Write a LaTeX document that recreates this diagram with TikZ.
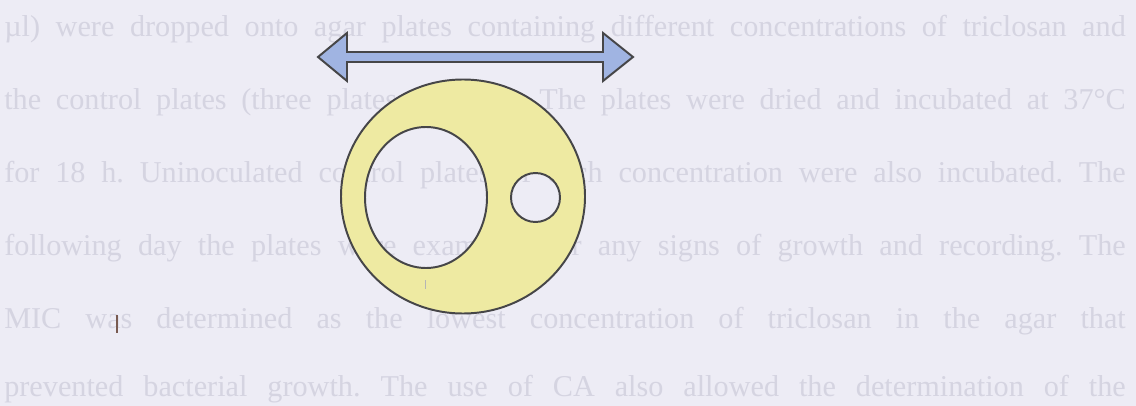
\documentclass[tikz,border=0pt]{standalone}
\usepackage{fontspec}
\setmainfont{Liberation Serif}
\usepackage{xcolor}
\usepackage{tikz}
\usetikzlibrary{calc}
\definecolor{pgPaper} {RGB}{237,236,245}
\definecolor{pgGhost} {RGB}{213,212,225}
\definecolor{pgBlue}  {RGB}{160,180,226}
\definecolor{pgYellow}{RGB}{238,234,162}
\definecolor{pgInk}   {RGB}{ 70, 70, 72}
\definecolor{pgSpeck} {RGB}{120, 90, 80}

\begin{document}
\frenchspacing
\begin{tikzpicture}[
  x=0.025cm,y=-0.025cm,
  ghost/.style={anchor=base west,inner sep=0pt,text=pgGhost,
                font=\fontsize{21.5}{23}\selectfont},
  ring/.style={fill=pgYellow,even odd rule},
  rim/.style={draw=pgInk,line width=1.4pt},
  span/.style={fill=pgBlue,draw=pgInk,line width=1.4pt,line join=miter}
]
\def\lineW{28.03cm}
\def\gap{73}
\def\topB{37}

% --- page and faint text behind the figure
\fill[pgPaper] (0,0) rectangle (1136,406);
\node[ghost] (l1) at (4,\topB)
  {\makebox[\lineW][s]{µl) were dropped onto agar plates containing different concentrations of triclosan and}};
\node[ghost] (l2) at (4,\topB+\gap)
  {\makebox[\lineW][s]{the control plates (three plates of each). The plates were dried and incubated at 37°C}};
\node[ghost] (l3) at (4,\topB+2*\gap)
  {\makebox[\lineW][s]{for 18 h. Uninoculated control plates of each concentration were also incubated. The}};
\node[ghost] (l4) at (4,\topB+3*\gap)
  {\makebox[\lineW][s]{following day the plates were examined for any signs of growth and recording. The}};
\node[ghost] (l5) at (4,\topB+4*\gap-1)
  {\makebox[\lineW][s]{MIC was determined as the lowest concentration of triclosan in the agar that}};
\node[ghost] (l6) at (4,\topB+5*\gap-6)
  {\makebox[\lineW][s]{prevented bacterial growth. The use of CA also allowed the determination of the}};

% --- double arrow
\draw[span] (318,57) -- (347,33) -- (347,52) -- (603,52) -- (603,33) -- (633,57)
  -- (603,81) -- (603,62) -- (347,62) -- (347,81) -- cycle;

% --- plate with two wells
\path[ring] (463,196.5) ellipse [x radius=122,y radius=117]
  (426,197.5) ellipse [x radius=61,y radius=70.5]
  (535.5,197.5) circle [radius=24.5];
\draw[rim] (463,196.5) ellipse [x radius=122,y radius=117];
\draw[rim] (426,197.5) ellipse [x radius=61,y radius=70.5];
\draw[rim] (535.5,197.5) circle [radius=24.5];

% --- specks
\draw[pgSpeck,line width=1pt] (117,315) -- (117,333);
\draw[pgInk!40,line width=0.5pt] (425,280) -- (425,289);
\end{tikzpicture}
\end{document}
